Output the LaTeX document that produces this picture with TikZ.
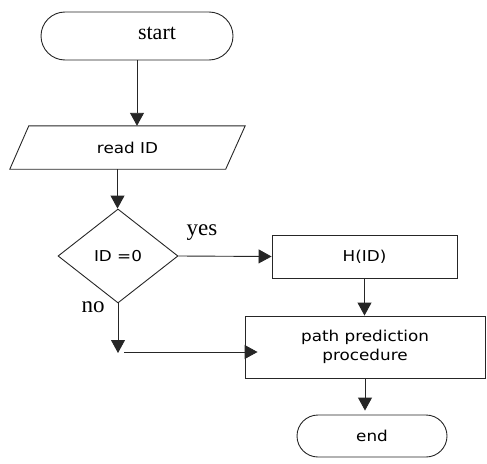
\documentclass[tikz,border=0pt]{standalone}
\usepackage{fontspec}
\setmainfont{Liberation Serif}
\newfontfamily\vsans[FakeStretch=1.12]{DejaVu Sans}
\usetikzlibrary{arrows.meta,shapes.geometric,shapes.misc}
\tikzset{
  ln/.style={draw=black!85, line width=0.9pt},
  arr/.style={ln, -{Triangle[width=14pt,length=13pt]}},
  term/.style={ln, shape=rounded rectangle, inner sep=0pt, font=\fontsize{22}{24}\selectfont},
  termsans/.style={ln, shape=rounded rectangle, inner sep=0pt, font=\vsans\fontsize{15}{19}\selectfont},
  proc/.style={ln, shape=rectangle, inner sep=0pt, align=center, font=\vsans\fontsize{15}{19}\selectfont},
  iotext/.style={shape=rectangle, inner sep=0pt, font=\vsans\fontsize{15}{19}\selectfont},
  dec/.style={ln, shape=diamond, inner sep=0pt, font=\vsans\fontsize{15}{19}\selectfont},
  lbl/.style={font=\fontsize{23}{25}\selectfont, inner sep=0pt}
}
\begin{document}
\begin{tikzpicture}[x=1pt,y=1pt]
\useasboundingbox (0,0) rectangle (487,-463);
\node[term, minimum width=192pt, minimum height=48pt] (start) at (137,-36)
  {\hspace*{40pt}\raisebox{5pt}{start}};
\node[iotext, minimum width=216pt, minimum height=43pt] (rd) at (127.5,-147.5) {read ID};
\draw[ln] ([xshift=9.5pt]rd.north west) -- ([xshift=9.5pt]rd.north east)
  -- ([xshift=-10pt]rd.south east) -- ([xshift=-9.5pt]rd.south west) -- cycle;
\node[dec, minimum width=120pt, minimum height=94pt] (dc) at (118,-256) {ID =0};
\node[proc, minimum width=185pt, minimum height=43pt] (hid) at (364.5,-256.5) {H(ID)};
\node[proc, minimum width=240pt, minimum height=62pt] (pp) at (365,-347) {path prediction\\procedure};
\node[termsans, minimum width=150pt, minimum height=42pt] (end) at (372,-436) {end};
\node[lbl] (yes) at (202,-233) {yes};
\node[lbl] (no) at (93,-307) {no};
\coordinate (m) at (118,-353);
\coordinate (m2) at (124,-352);
\draw[arr] (start.south) -- (start.south |- rd.north);
\draw[arr] ([xshift=-10pt]rd.south) -- ([xshift=-10pt]rd.south |- dc.north);
\draw[arr] (dc.east) -- (hid.west);
\draw[arr] (dc.south) -- (m);
\draw[arr] (m2) -- ([xshift=13pt]pp.west |- m2);
\draw[arr] (hid.south) -- (hid.south |- pp.north);
\draw[arr, shorten >=4pt] (pp.south) -- (pp.south |- end.north);
\end{tikzpicture}
\end{document}
